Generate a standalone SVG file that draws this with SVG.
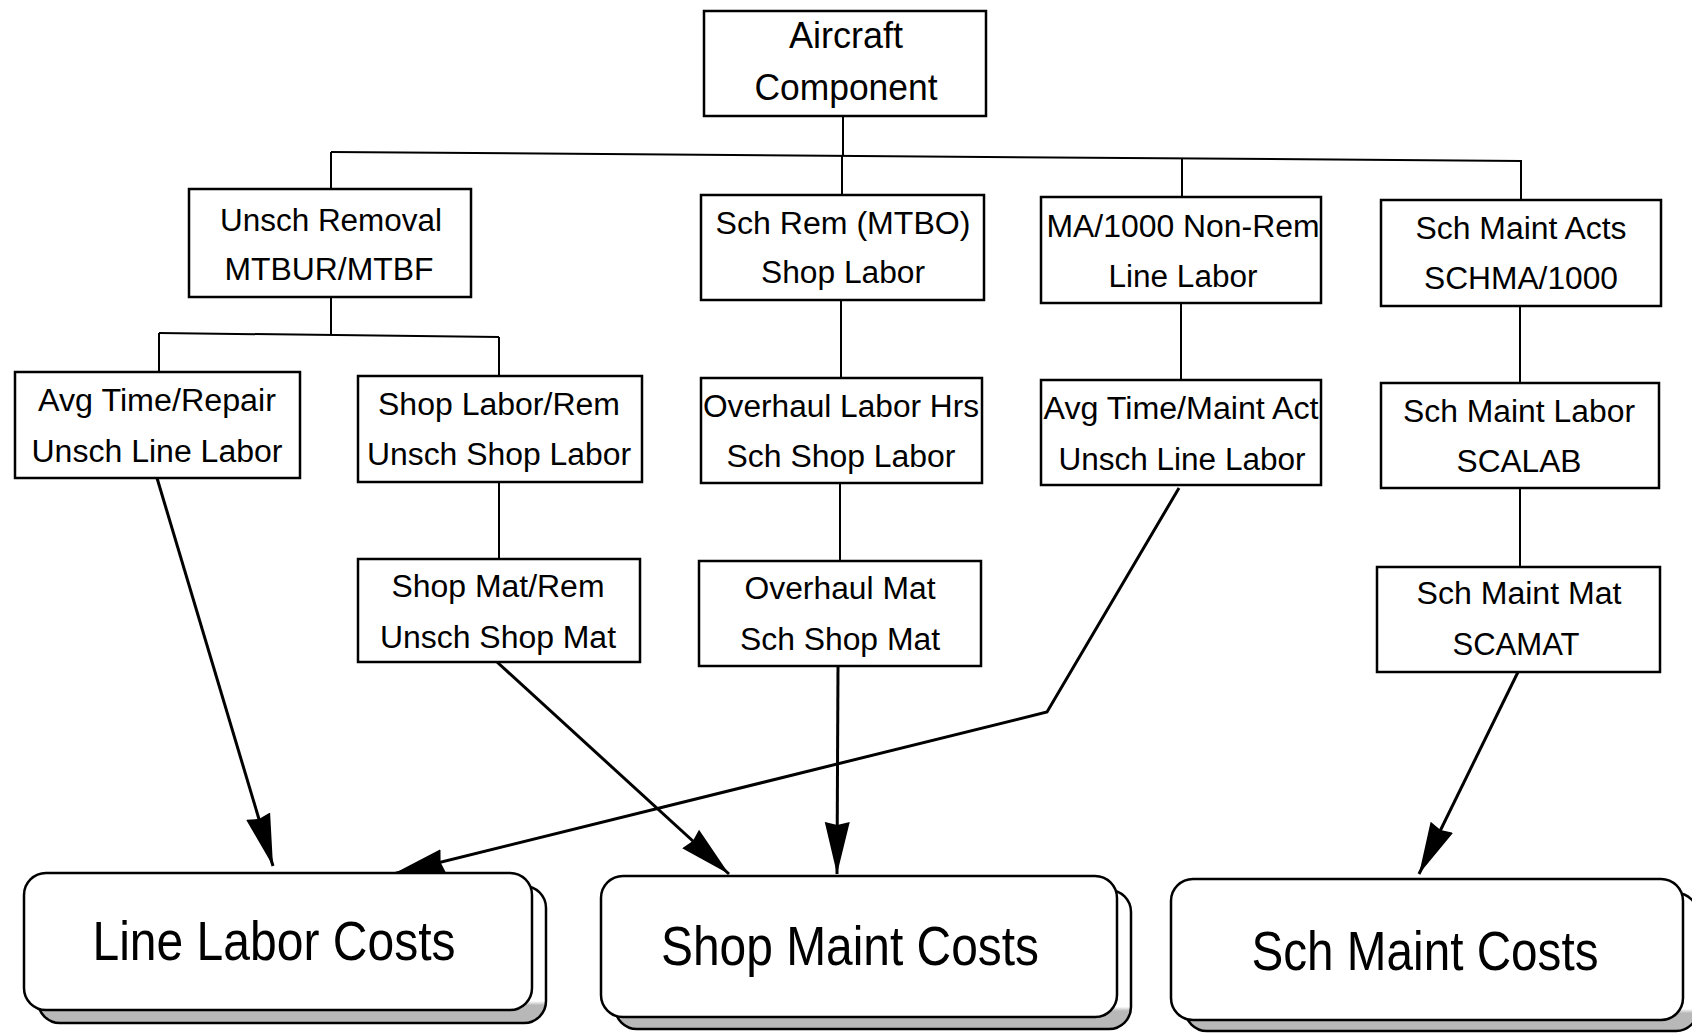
<svg xmlns="http://www.w3.org/2000/svg" width="1692" height="1034" viewBox="0 0 1692 1034">
<style>
.box{fill:#fff;stroke:#000;stroke-width:2.5}
.t{font-family:"Liberation Sans",Arial,sans-serif;font-size:31px;text-anchor:middle;fill:#000}
.tl{font-family:"Liberation Sans",Arial,sans-serif;font-size:36px;text-anchor:middle;fill:#000}
.big{font-family:"Liberation Sans",Arial,sans-serif;font-size:55px;text-anchor:middle;fill:#000}
.ln{fill:none;stroke:#000;stroke-width:2}
.ar{fill:none;stroke:#000;stroke-width:3;marker-end:url(#ah)}
.rb{fill:#fff;stroke:#000;stroke-width:2.5}
.sh{fill:url(#shg);stroke:#000;stroke-width:2.5}
</style>
<defs>
<marker id="ah" markerUnits="userSpaceOnUse" markerWidth="60" markerHeight="34" viewBox="0 -17 60 34" refX="52" refY="0" orient="auto">
<path d="M0,-12.5 L52,0 L0,12.5 L3,0 z" fill="#000"/>
</marker>
<linearGradient id="shg" x1="0" y1="0" x2="0" y2="1">
<stop offset="0.84" stop-color="#fff"/>
<stop offset="0.87" stop-color="#b8b8b8"/>
<stop offset="1" stop-color="#b8b8b8"/>
</linearGradient>
</defs>
<rect width="1692" height="1034" fill="#fff"/>
<g id="connectors">
<path class="ln" d="M843,116 L843,156"/>
<path class="ln" d="M331,152 L1522,161"/>
<path class="ln" d="M331,152 L331,189"/>
<path class="ln" d="M842,156 L842,195"/>
<path class="ln" d="M1182,158 L1182,197"/>
<path class="ln" d="M1521,161 L1521,200"/>
<path class="ln" d="M331,297 L331,334"/>
<path class="ln" d="M159,333 L499,337"/>
<path class="ln" d="M159,333 L159,372"/>
<path class="ln" d="M499,337 L499,376"/>
<path class="ln" d="M841,300 L841,378"/>
<path class="ln" d="M840,483 L840,561"/>
<path class="ln" d="M1181,303 L1181,380"/>
<path class="ln" d="M1520,306 L1520,383"/>
<path class="ln" d="M1520,488 L1520,567"/>
<path class="ln" d="M499,482 L499,559"/>
<path class="ar" d="M157,478 L273,866"/>
<path class="ar" d="M497,662 L729,874"/>
<path class="ar" d="M838,666 L837,874"/>
<path class="ar" d="M1179,488 L1047,712 L393,874"/>
<path class="ar" d="M1518,672 L1419,874"/>
</g>
<g id="n_aircraft">
<rect class="box" x="704" y="11" width="282" height="105"/>
<text class="tl" x="846" y="48" textLength="114" lengthAdjust="spacingAndGlyphs">Aircraft</text>
<text class="tl" x="846" y="100" textLength="183" lengthAdjust="spacingAndGlyphs">Component</text>
</g>
<g id="n_unsch_removal">
<rect class="box" x="189" y="189" width="282" height="108"/>
<text class="t" x="331" y="231" textLength="222" lengthAdjust="spacingAndGlyphs">Unsch Removal</text>
<text class="t" x="329" y="280" textLength="209" lengthAdjust="spacingAndGlyphs">MTBUR/MTBF</text>
</g>
<g id="n_sch_rem">
<rect class="box" x="701" y="195" width="283" height="105"/>
<text class="t" x="843" y="234" textLength="255" lengthAdjust="spacingAndGlyphs">Sch Rem (MTBO)</text>
<text class="t" x="843" y="283" textLength="164" lengthAdjust="spacingAndGlyphs">Shop Labor</text>
</g>
<g id="n_ma1000">
<rect class="box" x="1041" y="197" width="280" height="106"/>
<text class="t" x="1183" y="237" textLength="273" lengthAdjust="spacingAndGlyphs">MA/1000 Non-Rem</text>
<text class="t" x="1183" y="287" textLength="149" lengthAdjust="spacingAndGlyphs">Line Labor</text>
</g>
<g id="n_sch_maint_acts">
<rect class="box" x="1381" y="200" width="280" height="106"/>
<text class="t" x="1521" y="239" textLength="211" lengthAdjust="spacingAndGlyphs">Sch Maint Acts</text>
<text class="t" x="1521" y="289" textLength="194" lengthAdjust="spacingAndGlyphs">SCHMA/1000</text>
</g>
<g id="n_avg_time_repair">
<rect class="box" x="15" y="372" width="285" height="106"/>
<text class="t" x="157" y="411" textLength="238" lengthAdjust="spacingAndGlyphs">Avg Time/Repair</text>
<text class="t" x="157" y="462" textLength="251" lengthAdjust="spacingAndGlyphs">Unsch Line Labor</text>
</g>
<g id="n_shop_labor_rem">
<rect class="box" x="358" y="376" width="284" height="106"/>
<text class="t" x="499" y="415" textLength="242" lengthAdjust="spacingAndGlyphs">Shop Labor/Rem</text>
<text class="t" x="499" y="465" textLength="264" lengthAdjust="spacingAndGlyphs">Unsch Shop Labor</text>
</g>
<g id="n_overhaul_labor">
<rect class="box" x="701" y="378" width="281" height="105"/>
<text class="t" x="841" y="417" textLength="276" lengthAdjust="spacingAndGlyphs">Overhaul Labor Hrs</text>
<text class="t" x="841" y="467" textLength="229" lengthAdjust="spacingAndGlyphs">Sch Shop Labor</text>
</g>
<g id="n_avg_time_maint">
<rect class="box" x="1041" y="380" width="280" height="105"/>
<text class="t" x="1181" y="419" textLength="275" lengthAdjust="spacingAndGlyphs">Avg Time/Maint Act</text>
<text class="t" x="1182" y="470" textLength="247" lengthAdjust="spacingAndGlyphs">Unsch Line Labor</text>
</g>
<g id="n_sch_maint_labor">
<rect class="box" x="1381" y="383" width="278" height="105"/>
<text class="t" x="1519" y="422" textLength="232" lengthAdjust="spacingAndGlyphs">Sch Maint Labor</text>
<text class="t" x="1519" y="472" textLength="125" lengthAdjust="spacingAndGlyphs">SCALAB</text>
</g>
<g id="n_shop_mat_rem">
<rect class="box" x="358" y="559" width="282" height="103"/>
<text class="t" x="498" y="597" textLength="213" lengthAdjust="spacingAndGlyphs">Shop Mat/Rem</text>
<text class="t" x="498" y="648" textLength="236" lengthAdjust="spacingAndGlyphs">Unsch Shop Mat</text>
</g>
<g id="n_overhaul_mat">
<rect class="box" x="699" y="561" width="282" height="105"/>
<text class="t" x="840" y="599" textLength="191" lengthAdjust="spacingAndGlyphs">Overhaul Mat</text>
<text class="t" x="840" y="650" textLength="200" lengthAdjust="spacingAndGlyphs">Sch Shop Mat</text>
</g>
<g id="n_sch_maint_mat">
<rect class="box" x="1377" y="567" width="283" height="105"/>
<text class="t" x="1519" y="604" textLength="205" lengthAdjust="spacingAndGlyphs">Sch Maint Mat</text>
<text class="t" x="1516" y="655" textLength="127" lengthAdjust="spacingAndGlyphs">SCAMAT</text>
</g>
<g id="n_line_labor_costs">
<rect class="sh" x="38" y="886" width="508" height="137" rx="22"/>
<rect class="rb" x="24" y="873" width="508" height="137" rx="22"/>
<text class="big" x="274" y="960" textLength="363" lengthAdjust="spacingAndGlyphs">Line Labor Costs</text>
</g>
<g id="n_shop_maint_costs">
<rect class="sh" x="615" y="890" width="516" height="139" rx="22"/>
<rect class="rb" x="601" y="876" width="516" height="141" rx="22"/>
<text class="big" x="850" y="965" textLength="378" lengthAdjust="spacingAndGlyphs">Shop Maint Costs</text>
</g>
<g id="n_sch_maint_costs">
<rect class="sh" x="1185" y="893" width="513" height="138" rx="22"/>
<rect class="rb" x="1171" y="879" width="512" height="141" rx="22"/>
<text class="big" x="1425" y="970" textLength="347" lengthAdjust="spacingAndGlyphs">Sch Maint Costs</text>
</g>
</svg>
